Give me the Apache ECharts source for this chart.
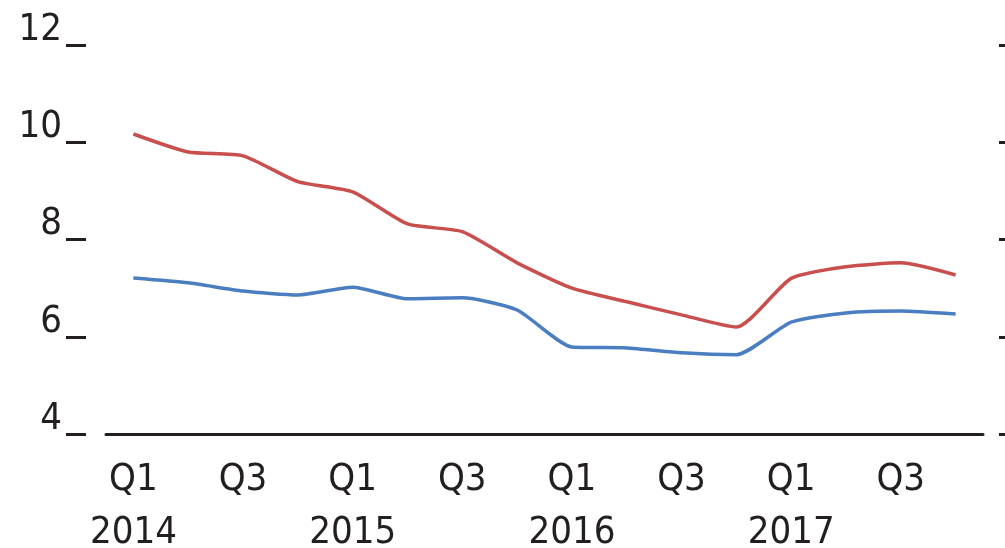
<!DOCTYPE html>
<html><head><meta charset="utf-8">
<script src="https://cdn.jsdelivr.net/npm/echarts@6/dist/echarts.min.js"></script>
<style>html,body{margin:0;padding:0;background:#fff}#c{width:1005px;height:548px}</style>
</head><body><div id="c"></div>
<script>
var categories = ['Q1\n2014','Q2','Q3','Q4','Q1\n2015','Q2','Q3','Q4','Q1\n2016','Q2','Q3','Q4','Q1\n2017','Q2','Q3','Q4'];
var redSeries = [10.17, 9.80, 9.72, 9.19, 8.98, 8.32, 8.16, 7.52, 7.00, 6.72, 6.45, 6.20, 7.20, 7.44, 7.52, 7.27];
var blueSeries = [7.21, 7.11, 6.94, 6.86, 7.02, 6.78, 6.80, 6.55, 5.79, 5.77, 5.67, 5.63, 6.30, 6.49, 6.53, 6.47];
var yTicks = [4, 6, 8, 10, 12];

var ink = '#231f20';
var fontFam = '"Liberation Sans Narrow","DejaVu Sans Condensed","Liberation Sans",sans-serif';
var chart = echarts.init(document.getElementById('c'), null, {renderer: 'canvas'});
chart.setOption({
  animation: false,
  grid: {left: 106, right: 22, top: 45, bottom: 114, containLabel: false, outerBoundsMode: 'none'},
  xAxis: {
    type: 'category', data: categories, boundaryGap: true,
    axisLine: {show: true, lineStyle: {color: ink, width: 3}},
    axisTick: {show: false},
    axisLabel: {interval: 1, color: ink, fontFamily: fontFam, fontSize: 38, lineHeight: 53, margin: 20}
  },
  yAxis: [{
    type: 'value', min: yTicks[0], max: yTicks[yTicks.length - 1], interval: 2,
    position: 'left', offset: 20,
    axisLine: {show: false},
    axisTick: {show: true, length: 20, lineStyle: {color: ink, width: 3}},
    splitLine: {show: false},
    axisLabel: {color: ink, fontFamily: fontFam, fontSize: 38, margin: 24, verticalAlign: 'bottom', lineHeight: 30}
  }, {
    type: 'value', min: yTicks[0], max: yTicks[yTicks.length - 1], interval: 2,
    position: 'right', offset: 16,
    axisLine: {show: false},
    axisTick: {show: true, length: 6, lineStyle: {color: ink, width: 3}},
    splitLine: {show: false},
    axisLabel: {show: false}
  }],
  series: [{
    type: 'line', data: redSeries, yAxisIndex: 0, smooth: 0.2, symbol: 'none',
    lineStyle: {color: '#c84f4d', width: 3.5}
  }, {
    type: 'line', data: blueSeries, yAxisIndex: 0, smooth: 0.2, symbol: 'none',
    lineStyle: {color: '#4a7ec0', width: 3.5}
  }]
});
</script></body></html>
